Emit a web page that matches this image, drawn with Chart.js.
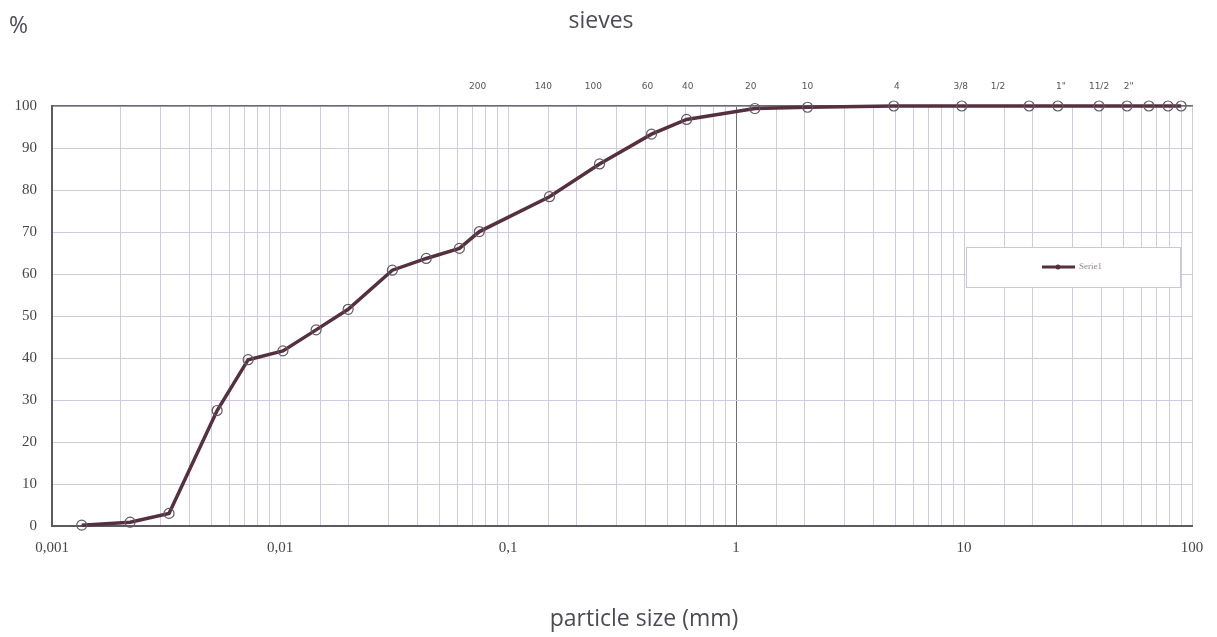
<!DOCTYPE html>
<html>
<head>
<meta charset="utf-8">
<script src="https://cdn.jsdelivr.net/npm/chart.js@4/dist/chart.umd.min.js"></script>
<style>
  html, body { margin: 0; padding: 0; background: #fff; }
  #wrap { width: 1217px; height: 637px; }
</style>
</head>
<body>
<div id="wrap"><canvas id="grading"></canvas></div>
<script>
// particle size (mm) and % passing
const particleSize = [0.00135, 0.0022, 0.00326, 0.0053, 0.00725, 0.0103, 0.0144, 0.0199, 0.0311, 0.0438,
  0.0612, 0.0749, 0.152, 0.252, 0.426, 0.607, 1.21, 2.06, 4.92, 9.78, 19.3, 25.8, 39.1, 51.9, 64.7, 78.5, 89.6];
const percentPassing = [0.2, 0.9, 3.0, 27.5, 39.6, 41.7, 46.7, 51.6, 60.9, 63.7,
  66.1, 70.1, 78.4, 86.2, 93.3, 96.8, 99.4, 99.7, 100, 100, 100, 100, 100, 100, 100, 100, 100];

// sieve names along the top
const sieveNames = ['200', '140', '100', '60', '40', '20', '10', '4', '3/8', '1/2', '1"', '11/2', '2"'];
const sieveSizes = [0.0735, 0.143, 0.237, 0.409, 0.614, 1.16, 2.06, 5.07, 9.68, 14.1, 26.6, 39.1, 52.8];

const decadeLabels = { 0.001: '0,001', 0.01: '0,01', 0.1: '0,1', 1: '1', 10: '10', 100: '100' };
const yTicks = [0, 10, 20, 30, 40, 50, 60, 70, 80, 90, 100];

const gridColor = '#cfc9e3';
const labelFont = { family: 'Liberation Serif', size: 15 };
const titleColor = '#4d4a55';

// legend box inside the plot, titles and the "%" label
const extras = {
  id: 'extras',
  afterDraw(chart) {
    const ctx = chart.ctx;
    const ds = chart.data.datasets[0];
    ctx.save();
    ctx.textBaseline = 'middle';
    ctx.fillStyle = titleColor;
    ctx.font = '23px "Open Sans"';
    ctx.textAlign = 'center';
    ctx.fillText('sieves', 601, 21);
    ctx.fillText('particle size (mm)', 644, 619);
    ctx.textAlign = 'left';
    ctx.font = '23px "Open Sans"';
    ctx.fillText('%', 9, 26);

    ctx.fillStyle = '#fff';
    ctx.strokeStyle = '#c9c9cf';
    ctx.lineWidth = 1;
    ctx.fillRect(966, 247, 214, 40);
    ctx.strokeRect(966.5, 247.5, 214, 40);
    ctx.strokeStyle = ds.borderColor;
    ctx.lineWidth = 3;
    ctx.beginPath();
    ctx.moveTo(1042, 267);
    ctx.lineTo(1075, 267);
    ctx.stroke();
    ctx.fillStyle = ds.borderColor;
    ctx.beginPath();
    ctx.arc(1058, 267, 2.5, 0, Math.PI * 2);
    ctx.fill();
    ctx.fillStyle = '#8a7f90';
    ctx.font = '9px "Liberation Serif"';
    ctx.fillText(ds.label, 1079, 267);
    ctx.restore();
  }
};

new Chart(document.getElementById('grading'), {
  type: 'line',
  data: {
    datasets: [{
      label: 'Serie1',
      data: particleSize.map((s, i) => ({ x: s, y: percentPassing[i] })),
      borderColor: '#55303d',
      borderWidth: 3.5,
      pointRadius: 5,
      pointBorderWidth: 1.2,
      pointBorderColor: '#645860',
      pointBackgroundColor: 'rgba(0,0,0,0)',
      tension: 0,
      clip: false
    }]
  },
  options: {
    responsive: true,
    maintainAspectRatio: false,
    animation: false,
    layout: { padding: { left: 0, right: 25, top: 0, bottom: 0 } },
    plugins: { legend: { display: false }, tooltip: { enabled: false } },
    scales: {
      x: {
        type: 'logarithmic',
        position: 'bottom',
        min: 0.001,
        max: 100,
        afterFit: s => { s.height = 111; },
        grid: {
          color: c => (c.tick && c.tick.value === 1 ? '#6f6f78' : gridColor),
          drawTicks: false
        },
        border: { color: '#5a5a60', width: 2 },
        ticks: {
          autoSkip: false,
          maxRotation: 0,
          padding: 13,
          color: '#464646',
          font: labelFont,
          callback: v => decadeLabels[v] || ''
        }
      },
      top: {
        type: 'logarithmic',
        position: 'top',
        min: 0.001,
        max: 100,
        afterFit: s => { s.height = 106; },
        afterBuildTicks: s => { s.ticks = sieveSizes.map(v => ({ value: v })); },
        grid: { display: false, drawTicks: false },
        border: { color: '#6a6a72', width: 1.5 },
        ticks: {
          autoSkip: false,
          maxRotation: 0,
          padding: 14,
          color: '#555',
          font: { family: 'DejaVu Sans', size: 9 },
          callback: (v, i) => sieveNames[i]
        }
      },
      y: {
        min: 0,
        max: 100,
        afterFit: s => { s.width = 52; },
        afterBuildTicks: s => { s.ticks = yTicks.map(v => ({ value: v })); },
        grid: { color: gridColor, drawTicks: false },
        border: { color: '#5a5a60', width: 2 },
        ticks: { padding: 15, color: '#464646', font: labelFont }
      }
    }
  },
  plugins: [extras]
});
</script>
</body>
</html>
